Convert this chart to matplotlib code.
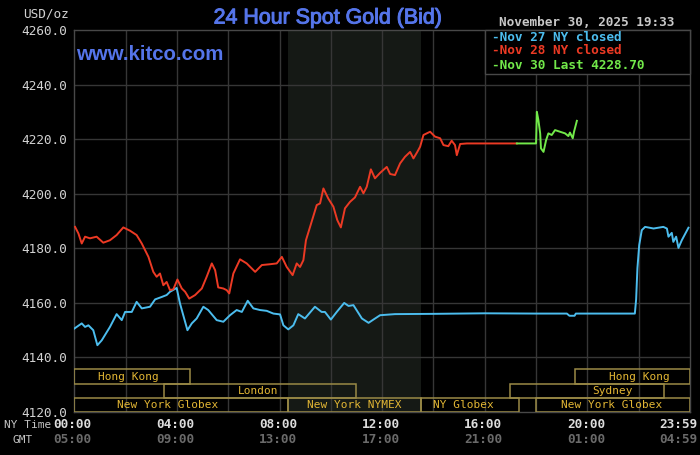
import matplotlib
matplotlib.use("Agg")
import matplotlib.pyplot as plt
from matplotlib.patches import Rectangle
import matplotlib.transforms as mtransforms
import matplotlib.patheffects as pe

# ---------------- data ----------------
nov27_t = [0.00, 0.29, 0.42, 0.55, 0.74, 0.90, 1.07, 1.39, 1.65, 1.85, 1.98, 2.24, 2.43, 2.63,
           2.95, 3.15, 3.41, 3.60, 3.73, 3.99, 4.12, 4.41, 4.58, 4.77, 5.03, 5.22, 5.55, 5.81,
           6.07, 6.33, 6.53, 6.76, 6.98, 7.24, 7.50, 7.76, 8.02, 8.15, 8.34, 8.54, 8.73, 8.99,
           9.38, 9.64, 9.77, 10.00, 10.23, 10.52, 10.69, 10.88, 11.21, 11.47, 11.66, 11.92,
           12.50, 14.00, 16.00, 18.00, 19.20, 19.30, 19.50, 19.55, 21.85, 21.90, 21.95, 22.02,
           22.12, 22.25, 22.58, 22.96, 23.10, 23.16, 23.29, 23.35, 23.46, 23.55, 23.68, 23.94]
nov27_v = [4150.6, 4152.5, 4151.2, 4151.8, 4150.0, 4144.5, 4146.3, 4151.2, 4155.9, 4153.7,
           4156.7, 4156.7, 4160.4, 4158.0, 4158.6, 4161.3, 4162.2, 4162.9, 4164.1, 4165.5,
           4159.8, 4150.0, 4152.5, 4154.3, 4158.6, 4157.4, 4153.7, 4153.1, 4155.5, 4157.4,
           4156.7, 4160.8, 4158.0, 4157.4, 4157.1, 4156.1, 4155.8, 4151.8, 4150.3, 4151.8,
           4155.9, 4154.3, 4158.6, 4156.7, 4156.7, 4153.9, 4156.7, 4160.0, 4158.9, 4159.2,
           4154.3, 4152.7, 4153.9, 4155.5, 4155.9, 4156.0, 4156.2, 4156.1, 4156.1, 4155.3,
           4155.3, 4156.1, 4156.1, 4161.3, 4172.7, 4181.2, 4186.7, 4187.9, 4187.3, 4187.9,
           4187.3, 4184.3, 4185.7, 4182.4, 4184.3, 4180.2, 4183.0, 4187.6]

nov28_t = [0.03, 0.16, 0.29, 0.42, 0.61, 0.87, 1.13, 1.39, 1.65, 1.91, 2.17, 2.43, 2.63, 2.89,
           3.08, 3.21, 3.34, 3.47, 3.60, 3.73, 3.86, 4.02, 4.19, 4.32, 4.48, 4.71, 4.97, 5.16,
           5.36, 5.49, 5.61, 5.81, 5.94, 6.04, 6.20, 6.46, 6.72, 7.05, 7.31, 7.63, 7.89, 8.09,
           8.28, 8.51, 8.67, 8.80, 8.93, 9.03, 9.19, 9.45, 9.58, 9.71, 9.90, 10.10, 10.25,
           10.39, 10.55, 10.75, 10.94, 11.14, 11.27, 11.40, 11.56, 11.72, 11.92, 12.18, 12.31,
           12.50, 12.70, 12.89, 13.09, 13.22, 13.37, 13.48, 13.61, 13.74, 13.87, 14.06, 14.26,
           14.39, 14.58, 14.71, 14.84, 14.91, 15.04, 15.30, 17.25]
nov28_v = [4187.9, 4185.5, 4181.8, 4184.3, 4183.7, 4184.3, 4182.1, 4183.0, 4184.9, 4187.7,
           4186.5, 4184.9, 4181.8, 4176.9, 4171.4, 4169.6, 4170.8, 4166.5, 4167.7, 4164.7,
           4165.0, 4168.6, 4165.3, 4164.1, 4161.6, 4162.9, 4165.3, 4169.6, 4174.5, 4172.0,
           4165.7, 4165.3, 4164.7, 4163.5, 4170.8, 4176.0, 4174.5, 4171.4, 4173.9, 4174.2,
           4174.5, 4176.9, 4173.2, 4170.2, 4174.5, 4173.2, 4175.7, 4183.0, 4187.9, 4195.9,
           4196.5, 4202.0, 4198.3, 4195.3, 4190.4, 4187.7, 4194.7, 4197.1, 4198.7, 4202.6,
           4200.2, 4202.6, 4209.0, 4205.7, 4207.7, 4209.9, 4207.3, 4206.9, 4211.2, 4213.6,
           4215.4, 4213.0, 4215.4, 4217.3, 4221.6, 4222.2, 4222.8, 4221.0, 4220.4, 4217.9,
           4217.5, 4219.5, 4217.9, 4214.2, 4218.3, 4218.5, 4218.5]

nov30_t = [17.25, 18.00, 18.03, 18.09, 18.16, 18.19, 18.29, 18.39, 18.48, 18.61, 18.74, 18.93,
           19.13, 19.26, 19.32, 19.43, 19.48, 19.59]
nov30_v = [4218.5, 4218.5, 4230.1, 4227.1, 4222.2, 4216.7, 4215.4, 4219.7, 4222.2, 4221.6,
           4223.4, 4222.8, 4222.2, 4221.2, 4222.5, 4220.4, 4222.8, 4226.8]

series_labels = ["-Nov 27 NY closed", "-Nov 28 NY closed", "-Nov 30 Last 4228.70"]

y_ticks = [4120, 4140, 4160, 4180, 4200, 4220, 4240, 4260]
ny_hours = [0, 4, 8, 12, 16, 20, 24]
ny_labels = ["00:00", "04:00", "08:00", "12:00", "16:00", "20:00", "23:59"]
gmt_labels = ["05:00", "09:00", "13:00", "17:00", "21:00", "01:00", "04:59"]

session_names = ["Hong Kong", "London", "New York Globex", "New York NYMEX",
                 "NY Globex", "New York Globex", "Sydney", "Hong Kong"]
session_start = [0.0, 3.5, 0.0, 8.33, 13.5, 18.0, 17.0, 19.5]
session_end = [4.5, 11.0, 8.33, 13.5, 17.35, 24.0, 23.0, 24.0]
session_row = [0, 1, 2, 2, 2, 2, 1, 0]
session_label_x = [2.11, 7.16, 3.65, 10.9, 15.17, 20.96, 20.96, 22.03]

nymex_span = (8.33, 13.5)

# ---------------- style ----------------
BLUE = "#4cbdee"
RED = "#ec3a24"
GREEN = "#72e84a"
GRID = "#363636"
MONO = "DejaVu Sans Mono"
TITLE_BLUE = "#5575ea"

fig = plt.figure(figsize=(7.0, 4.55), dpi=100, facecolor="black")
W, H = 700.0, 455.0
x0, x1, ytop, ybot = 74.3, 690.0, 30.3, 412.0
ax = fig.add_axes([x0 / W, 1 - ybot / H, (x1 - x0) / W, (ybot - ytop) / H])
ax.set_facecolor("black")
ax.set_xlim(0, 24)
ax.set_ylim(4120, 4260)

ax.axvspan(*nymex_span, color="#151915", zorder=0, lw=0)

for h in range(2, 24, 2):
    ax.axvline(h, color=GRID, lw=1, zorder=1)
for yv in y_ticks[1:-1]:
    ax.axhline(yv, color=GRID, lw=1, zorder=1)

for s in ax.spines.values():
    s.set_color("#484848")
    s.set_linewidth(1)

ax.set_xticks([])
ax.set_yticks(y_ticks)
ax.set_yticklabels([f"{v:.1f}" for v in y_ticks], family=MONO, fontsize=9.2,
                   color="#d2d2d2")
ax.tick_params(axis="y", length=0, pad=5)

# series
ax.plot(nov27_t, nov27_v, color=BLUE, lw=1.4, zorder=4)
ax.plot(nov28_t, nov28_v, color=RED, lw=1.4, zorder=4)
ax.plot(nov30_t, nov30_v, color=GREEN, lw=1.4, zorder=5)

# sessions
row_h = 5.2
for name, s0, s1, r, lx in zip(session_names, session_start, session_end,
                               session_row, session_label_x):
    yb = 4120 + (2 - r) * row_h
    ax.add_patch(Rectangle((s0, yb), s1 - s0, row_h, fill=False,
                           edgecolor="#9a8a46", lw=1.1, zorder=3))
    ax.text(lx, yb + row_h / 2, name, ha="center", va="center", family=MONO,
            fontsize=8, color="#e2b634", zorder=6)

# legend box
ax.add_patch(Rectangle((0.667, 0.886), 0.333, 0.114, transform=ax.transAxes,
                       facecolor="black", edgecolor="#484848", lw=1, zorder=7,
                       clip_on=False))
for lab, col, yy in zip(series_labels, [BLUE, RED, GREEN], [0.982, 0.946, 0.909]):
    ax.text(0.679, yy, lab, transform=ax.transAxes, ha="left", va="center",
            family=MONO, fontsize=9.2, fontweight="bold", color=col, zorder=8)

# x labels
trans = mtransforms.blended_transform_factory(ax.transData, ax.transAxes)
for i, (h, nl, gl) in enumerate(zip(ny_hours, ny_labels, gmt_labels)):
    if i == len(ny_hours) - 1:
        t = mtransforms.offset_copy(trans, fig=fig, x=7, y=0, units="dots")
        ha = "right"
    else:
        t = mtransforms.offset_copy(trans, fig=fig, x=-1.5, y=0, units="dots")
        ha = "center"
    ax.text(h, -0.034, nl, transform=t, ha=ha, va="center", family=MONO,
            fontsize=9.2, fontweight="bold", color="#dcdcdc", clip_on=False)
    ax.text(h, -0.073, gl, transform=t, ha=ha, va="center", family=MONO,
            fontsize=9.2, fontweight="bold", color="#6a6a6a", clip_on=False)

fig.text(4 / W, 1 - 425 / H, "NY Time", ha="left", va="center", family=MONO,
         fontsize=8, color="#c4c4c4")
fig.text(23 / W, 1 - 440 / H, "GMT", ha="center", va="center", family=MONO,
         fontsize=8, color="#c4c4c4")

# header texts
fig.text(23 / W, 1 - 17.5 / H, "USD/oz", ha="left", va="baseline", family=MONO,
         fontsize=9.2, color="#d2d2d2")
fig.text(328 / W, 1 - 23.5 / H, "24 Hour Spot Gold (Bid)", ha="center",
         va="baseline", family="Liberation Sans", fontsize=15.4, color=TITLE_BLUE,
         path_effects=[pe.withStroke(linewidth=0.7, foreground=TITLE_BLUE)])
fig.text(499 / W, 1 - 25.5 / H, "November 30, 2025 19:33", ha="left",
         va="baseline", family=MONO, fontsize=9.2, fontweight="bold",
         color="#c8c8c8")
fig.text(76.5 / W, 1 - 59.7 / H, "www.kitco.com", ha="left", va="baseline",
         family="Liberation Sans", fontsize=14.7, fontweight="bold",
         color=TITLE_BLUE, zorder=6)

fig.savefig("out.png", dpi=100, facecolor="black")
